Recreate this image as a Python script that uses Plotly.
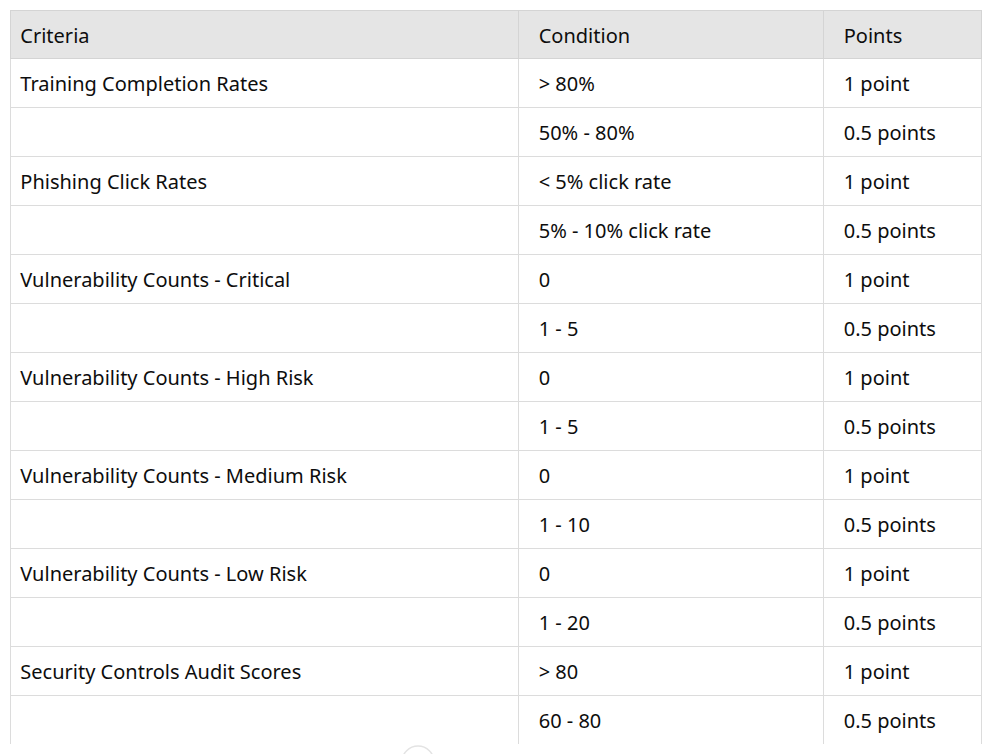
import plotly.graph_objects as go

# Table content
headers = ["Criteria", "Condition", "Points"]
criteria = [
    "Training Completion Rates", "",
    "Phishing Click Rates", "",
    "Vulnerability Counts - Critical", "",
    "Vulnerability Counts - High Risk", "",
    "Vulnerability Counts - Medium Risk", "",
    "Vulnerability Counts - Low Risk", "",
    "Security Controls Audit Scores", "",
]
conditions = [
    "&gt; 80%", "50% - 80%",
    "&lt; 5% click rate", "5% - 10% click rate",
    "0", "1 - 5",
    "0", "1 - 5",
    "0", "1 - 10",
    "0", "1 - 20",
    "&gt; 80", "60 - 80",
]
points = ["1 point", "0.5 points"] * 7

# page has an 8px body margin, so figure px = page px - 8
W, H = 985, 746

# a tall hair space pushes the text down to sit mid-row, like the original;
# the trailing <br> stops plotly from re-wrapping the words
lift = '<span style="font-size:23px">\u200a</span>'
pad = "\u00a0\u00a0"


def cell(t, indent=""):
    return lift + indent + t + "<br>" if t else ""


font = dict(family="Noto Sans", size=20, color="#0d0d0d")

fig = go.Figure(go.Table(
    domain=dict(x=[2 / W, 973 / W], y=[1 - 736 / H, 1 - 2 / H]),
    columnwidth=[508, 305, 158],
    header=dict(
        values=[cell(headers[0])] + [cell(h, pad) for h in headers[1:]],
        fill_color="#e5e5e5",
        line_color="#d4d4d4",
        align="left",
        height=48,
        font=font,
    ),
    cells=dict(
        values=[
            [cell(c) for c in criteria],
            [cell(c, pad) for c in conditions],
            [cell(p, pad) for p in points],
        ],
        fill_color="white",
        line_color="#dcdcdc",
        align="left",
        height=49,
        font=font,
    ),
))

# scroll-down button peeking out below the table
fig.add_shape(
    type="circle", xref="paper", yref="paper",
    x0=394 / W, x1=426 / W, y0=1 - 770 / H, y1=1 - 738 / H,
    line=dict(color="#e3e3e3", width=1.5), fillcolor="white",
)

fig.update_layout(
    width=W,
    height=H,
    margin=dict(l=0, r=0, t=0, b=0),
    paper_bgcolor="white",
)

fig.write_html("out.html")
